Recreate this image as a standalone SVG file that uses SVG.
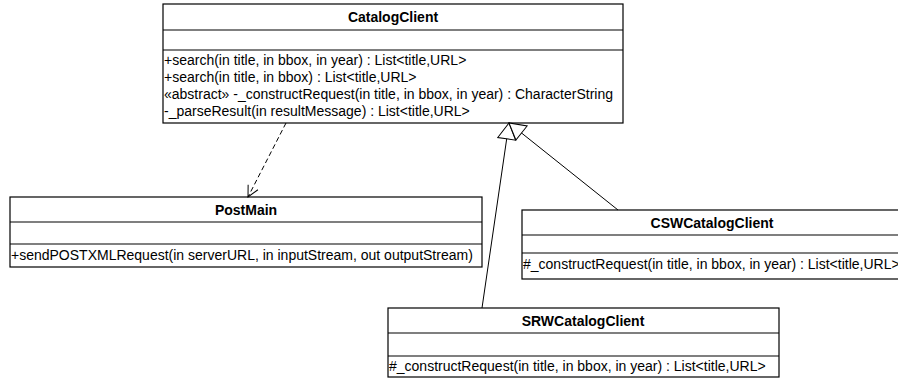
<svg xmlns="http://www.w3.org/2000/svg" width="898" height="378" viewBox="0 0 898 378">
<style>
.box{fill:#fff;stroke:#000;stroke-width:1.2}
.div{stroke:#000;stroke-width:1.2}
.t{font-family:"Liberation Sans",Arial,sans-serif;font-size:14px;fill:#000}
.h{font-weight:bold;text-anchor:middle}
.c{fill:none;stroke:#000;stroke-width:1}
</style>
<defs>
<marker id="tri" markerUnits="userSpaceOnUse" markerWidth="20" markerHeight="20" viewBox="0 0 20 20" refX="17" refY="10" orient="auto" overflow="visible">
<path d="M1,1 L17,10 L1,19 Z" fill="#fff" stroke="#000" stroke-width="1"/>
</marker>
<marker id="open" markerUnits="userSpaceOnUse" markerWidth="14" markerHeight="14" viewBox="0 0 14 14" refX="12" refY="7" orient="auto" overflow="visible">
<path d="M1,1.5 L12,7 L1,12.5" fill="none" stroke="#000" stroke-width="1"/>
</marker>
</defs>

<g id="CatalogClient">
<rect class="box" x="163" y="4" width="460" height="119"/>
<line class="div" x1="163" y1="30" x2="623" y2="30"/>
<line class="div" x1="163" y1="50" x2="623" y2="50"/>
<text class="t h" x="393" y="22">CatalogClient</text>
<text class="t" x="164" y="65">+search(in title, in bbox, in year) : List&lt;title,URL&gt;</text>
<text class="t" x="164" y="82">+search(in title, in bbox) : List&lt;title,URL&gt;</text>
<text class="t" x="164" y="99">«abstract» -_constructRequest(in title, in bbox, in year) : CharacterString</text>
<text class="t" x="164" y="116">-_parseResult(in resultMessage) : List&lt;title,URL&gt;</text>
</g>

<g id="PostMain">
<rect class="box" x="10" y="197" width="472" height="70"/>
<line class="div" x1="10" y1="222" x2="482" y2="222"/>
<line class="div" x1="10" y1="244" x2="482" y2="244"/>
<text class="t h" x="246" y="215">PostMain</text>
<text class="t" x="11" y="260">+sendPOSTXMLRequest(in serverURL, in inputStream, out outputStream)</text>
</g>

<g id="CSWCatalogClient">
<rect class="box" x="522" y="210" width="380" height="69"/>
<line class="div" x1="522" y1="235" x2="902" y2="235"/>
<line class="div" x1="522" y1="253" x2="902" y2="253"/>
<text class="t h" x="712" y="228">CSWCatalogClient</text>
<text class="t" x="523" y="269">#_constructRequest(in title, in bbox, in year) : List&lt;title,URL&gt;</text>
</g>

<g id="SRWCatalogClient">
<rect class="box" x="388" y="308" width="391" height="69"/>
<line class="div" x1="388" y1="333" x2="779" y2="333"/>
<line class="div" x1="388" y1="356" x2="779" y2="356"/>
<text class="t h" x="583" y="326">SRWCatalogClient</text>
<text class="t" x="389" y="371">#_constructRequest(in title, in bbox, in year) : List&lt;title,URL&gt;</text>
</g>

<g id="connectors">
<line class="c" x1="286" y1="123" x2="248" y2="197" stroke-dasharray="5,3" marker-end="url(#open)"/>
<line class="c" x1="482" y1="308" x2="509" y2="123" marker-end="url(#tri)"/>
<line class="c" x1="618" y1="210" x2="509" y2="123" marker-end="url(#tri)"/>
</g>
</svg>
